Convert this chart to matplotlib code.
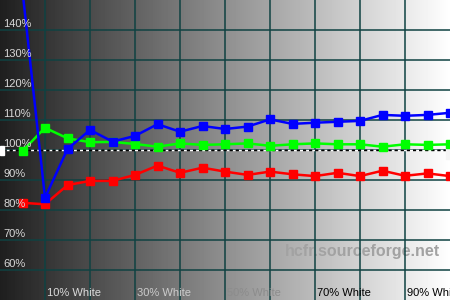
import numpy as np
import matplotlib
matplotlib.use("Agg")
import matplotlib.pyplot as plt

plt.rcParams['font.family'] = ['Liberation Sans', 'DejaVu Sans']

# measured points, 5% steps of white
niveaus = [5, 10, 15, 20, 25, 30, 35, 40, 45, 50, 55, 60, 65, 70, 75, 80, 85, 90, 95, 100]
rood = [82.4, 81.9, 88.3, 89.7, 89.7, 91.7, 94.8, 92.4, 94.1, 92.8,
        91.7, 92.8, 91.9, 91.3, 92.4, 91.3, 93.1, 91.4, 92.2, 91.3]
groen = [99.7, 107.4, 103.9, 102.6, 102.7, 102.0, 101.1, 102.2, 101.7, 101.9,
         102.2, 101.4, 101.9, 102.2, 101.9, 101.9, 101.1, 101.9, 101.7, 101.9]
blauw = [153.0, 84.1, 100.3, 106.7, 102.8, 104.7, 108.6, 106.1, 108.0, 107.0,
         107.8, 110.2, 108.7, 109.1, 109.4, 109.7, 111.7, 111.4, 111.7, 112.4]

y_ticks = [60, 70, 80, 90, 100, 110, 120, 130, 140]
x_ticks = [10, 30, 50, 70, 90]
x_label_kleuren = ['#dcdcdc', '#cccccc', '#8c8c8c', '#000000', '#000000']

fig = plt.figure(figsize=(4.5, 3), dpi=100)
ax = fig.add_axes([0, 0, 1, 1])
ax.set_xlim(0, 100)
ax.set_ylim(50, 150)
ax.axis('off')

# grey ramp background
ramp = np.linspace(0.12, 1.0, 450).reshape(1, -1)
ax.imshow(ramp, cmap='gray', vmin=0, vmax=1, extent=[0, 100, 50, 150],
          aspect='auto', zorder=0)

ax.text(63.3, 64.7, 'hcfr.sourceforge.net', fontsize=11.5, fontweight='bold',
        color='#a2a2a2', va='baseline', ha='left', zorder=1)

for xv in range(10, 100, 10):
    ax.axvline(xv, color='#0f4242', lw=1.1, zorder=2)
for yv in y_ticks:
    ax.axhline(yv, color='#0f4242', lw=1.1, zorder=2)

# reference line at 100%: white and black dashes alternating
ax.plot([0, 99], [100, 100], color='white', lw=1,
        linestyle=(0, (2.2, 2.2)), zorder=3)
ax.plot([0, 99], [100, 100], color='black', lw=1,
        linestyle=(2.2, (2.2, 2.2)), zorder=3)
ax.add_patch(plt.Rectangle((0, 98.3), 0.9, 3.0, color='white', zorder=3))
ax.add_patch(plt.Rectangle((99.1, 97.0), 0.9, 4.0, color='#f4f4f4', zorder=3))

for waarden, kleur in [(rood, '#ff0000'), (groen, '#00ff00'), (blauw, '#0000ff')]:
    ax.plot(niveaus, waarden, color=kleur, lw=1.8, marker='s', markersize=6,
            zorder=4)

for yv in y_ticks:
    ax.text(0.7, yv + 1, f'{yv}%', fontsize=8, color='#d8d8d8',
            va='baseline', ha='left', zorder=5)

for xv, kleur in zip(x_ticks, x_label_kleuren):
    ax.text(xv + 0.45, 51.4, f'{xv}% White', fontsize=8, color=kleur,
            va='baseline', ha='left', zorder=5)

fig.savefig('out.png', dpi=100)
